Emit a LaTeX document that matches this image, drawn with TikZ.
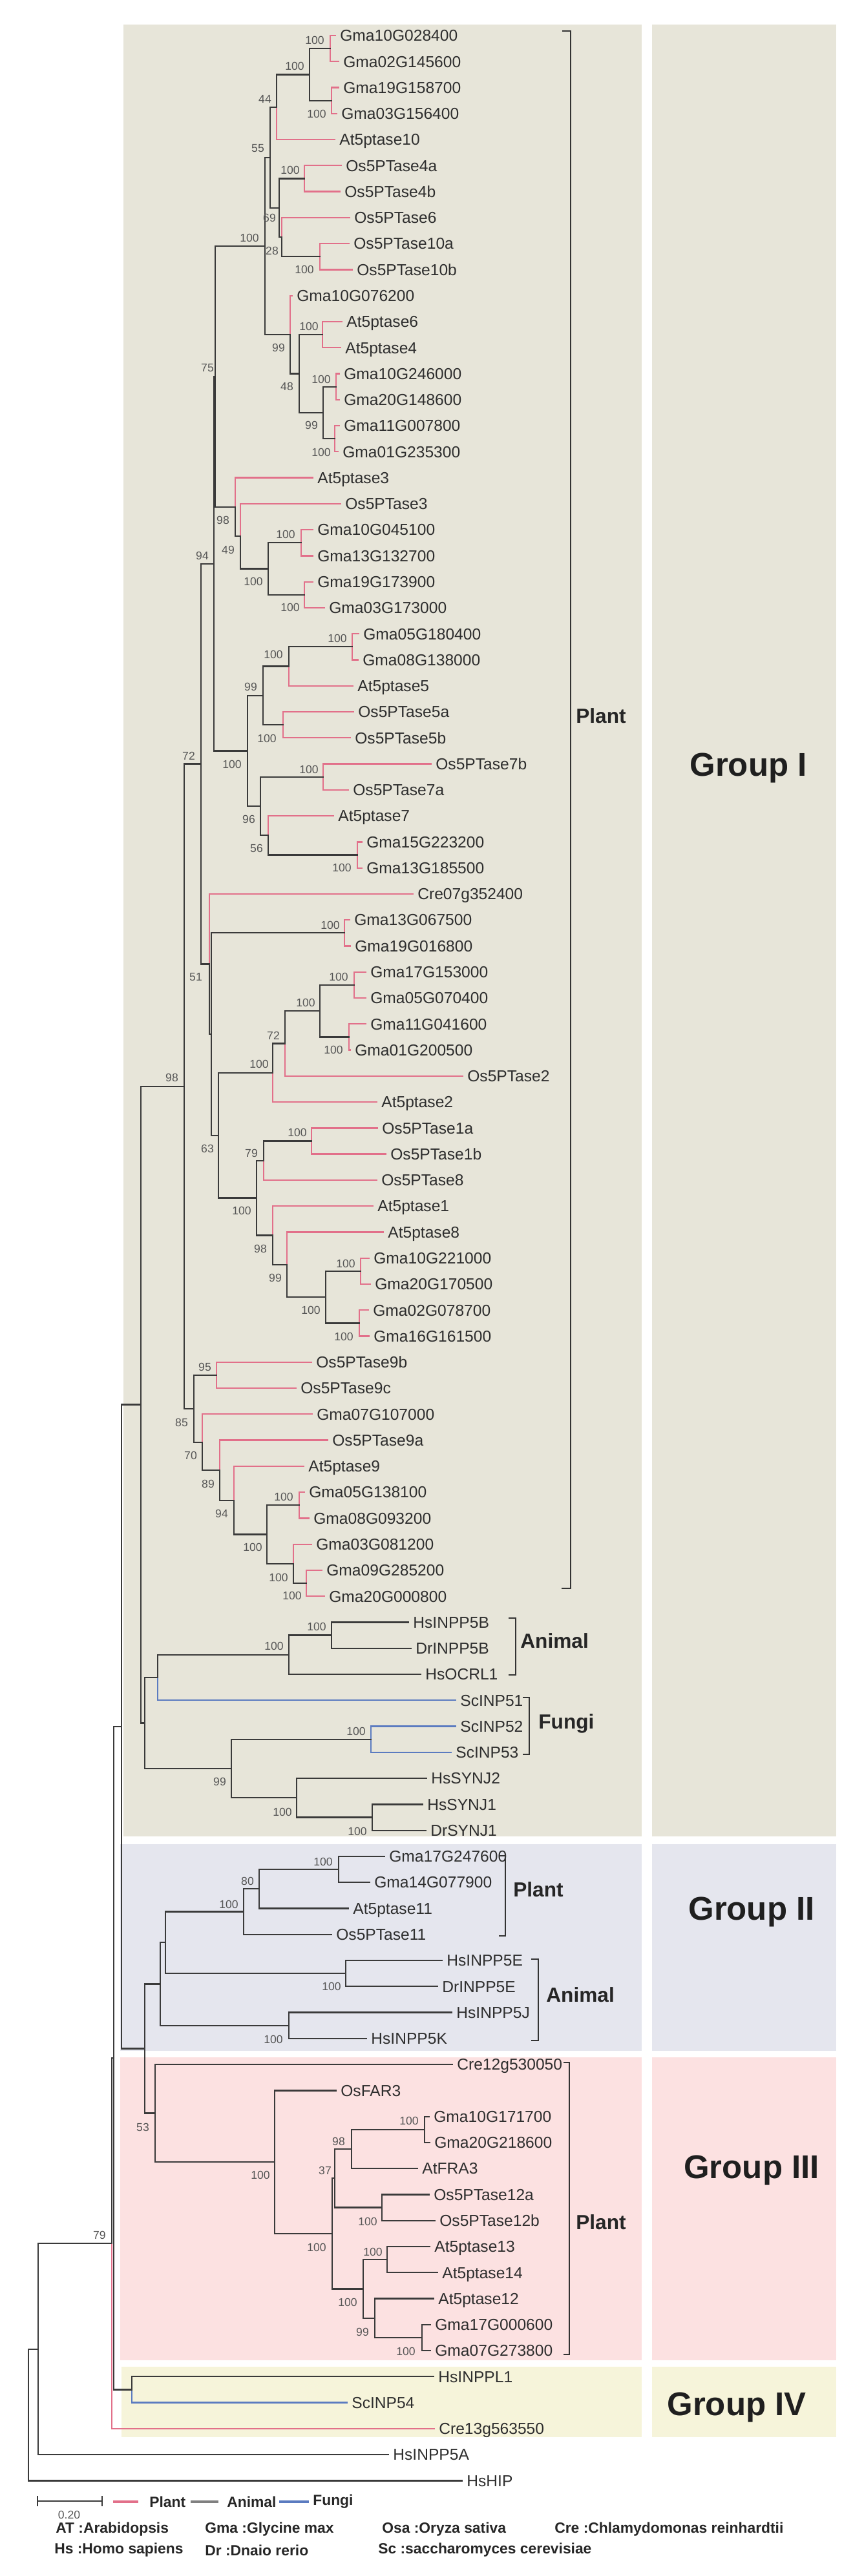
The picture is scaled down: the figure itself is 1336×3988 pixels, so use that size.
\documentclass[tikz,border=0pt]{standalone}
\usepackage{fontspec}
\setmainfont{Liberation Sans}
\definecolor{tree}{HTML}{3A3A3A}
\definecolor{plant}{HTML}{E2708A}
\definecolor{fungi}{HTML}{5B7BC0}
\definecolor{labc}{HTML}{2E2E2E}
\definecolor{bsc}{HTML}{555555}
\definecolor{bgI}{HTML}{E7E5D9}
\definecolor{bgII}{HTML}{E5E6EE}
\definecolor{bgIII}{HTML}{FCE1E1}
\definecolor{bgIV}{HTML}{F6F4DA}
\newcommand\LF[4]{\node[leaf] (#1) at (#2,55+40.27*#3) {#4};}
\newcommand\IN[3]{\coordinate (#1) at (#2,55+40.27*#3);}
\newcommand\E[3]{\draw[#1] (#2) |- (#3);}
\newcommand\EL[3]{\draw[#1] (#2) |- (#3.west);}
\newcommand\BS[4]{\node[bs] (bs#1) at (#2,#3) {#4};}
\begin{document}
\begin{tikzpicture}[x=0.02cm, y=-0.02cm,
  br/.style={draw=tree, line width=1.3pt, line cap=rect},
  pk/.style={draw=plant, line width=1.3pt, line cap=rect},
  fg/.style={draw=fungi, line width=1.3pt, line cap=rect},
  leaf/.style={anchor=west, inner xsep=0.14cm, inner ysep=0pt, text height=10pt, text depth=0pt, font=\fontsize{14}{15}\selectfont, text=labc},
  bs/.style={inner sep=0pt, font=\fontsize{10}{11}\selectfont, text=bsc},
  grp/.style={inner sep=0pt, font=\fontsize{29}{32}\selectfont\bfseries, text=black!88},
  clab/.style={anchor=west, inner sep=0pt, font=\fontsize{18}{20}\selectfont\bfseries, text=black!85},
  brk/.style={draw=black!80, line width=1.5pt},
  leg/.style={anchor=west, inner sep=0pt, font=\fontsize{13}{14}\selectfont\bfseries, text=black!85}
]
\useasboundingbox (0,0) rectangle (1336,3988);
% background bands
\fill[bgI] (191,38) rectangle (993,2843);
\fill[bgI] (1009,38) rectangle (1294,2843);
\fill[bgII] (186,2855) rectangle (993,3175);
\fill[bgII] (1009,2855) rectangle (1294,3175);
\fill[bgIII] (186,3185) rectangle (993,3654);
\fill[bgIII] (1009,3185) rectangle (1294,3654);
\fill[bgIV] (188,3664) rectangle (993,3773);
\fill[bgIV] (1009,3664) rectangle (1294,3773);
\node[grp] (gI) at (1158,1189) {Group I};
\node[grp] (gII) at (1163,2960) {Group II};
\node[grp] (gIII) at (1163,3360) {Group III};
\node[grp] (gIV) at (1140,3727) {Group IV};
% leaves
\LF{l0}{519}{0}{Gma10G028400}
\LF{l1}{524}{1}{Gma02G145600}
\LF{l2}{524}{2}{Gma19G158700}
\LF{l3}{521}{3}{Gma03G156400}
\LF{l4}{518}{4}{At5ptase10}
\LF{l5}{528}{5}{Os5PTase4a}
\LF{l6}{526}{6}{Os5PTase4b}
\LF{l7}{541}{7}{Os5PTase6}
\LF{l8}{540}{8}{Os5PTase10a}
\LF{l9}{545}{9}{Os5PTase10b}
\LF{l10}{452}{10}{Gma10G076200}
\LF{l11}{529}{11}{At5ptase6}
\LF{l12}{527}{12}{At5ptase4}
\LF{l13}{525}{13}{Gma10G246000}
\LF{l14}{525}{14}{Gma20G148600}
\LF{l15}{525}{15}{Gma11G007800}
\LF{l16}{523}{16}{Gma01G235300}
\LF{l17}{484}{17}{At5ptase3}
\LF{l18}{527}{18}{Os5PTase3}
\LF{l19}{484}{19}{Gma10G045100}
\LF{l20}{484}{20}{Gma13G132700}
\LF{l21}{484}{21}{Gma19G173900}
\LF{l22}{502}{22}{Gma03G173000}
\LF{l23}{555}{23}{Gma05G180400}
\LF{l24}{554}{24}{Gma08G138000}
\LF{l25}{546}{25}{At5ptase5}
\LF{l26}{547}{26}{Os5PTase5a}
\LF{l27}{542}{27}{Os5PTase5b}
\LF{l28}{667}{28}{Os5PTase7b}
\LF{l29}{539}{29}{Os5PTase7a}
\LF{l30}{516}{30}{At5ptase7}
\LF{l31}{560}{31}{Gma15G223200}
\LF{l32}{560}{32}{Gma13G185500}
\LF{l33}{639}{33}{Cre07g352400}
\LF{l34}{541}{34}{Gma13G067500}
\LF{l35}{542}{35}{Gma19G016800}
\LF{l36}{566}{36}{Gma17G153000}
\LF{l37}{566}{37}{Gma05G070400}
\LF{l38}{566}{38}{Gma11G041600}
\LF{l39}{542}{39}{Gma01G200500}
\LF{l40}{716}{40}{Os5PTase2}
\LF{l41}{583}{41}{At5ptase2}
\LF{l42}{584}{42}{Os5PTase1a}
\LF{l43}{597}{43}{Os5PTase1b}
\LF{l44}{583}{44}{Os5PTase8}
\LF{l45}{577}{45}{At5ptase1}
\LF{l46}{593}{46}{At5ptase8}
\LF{l47}{571}{47}{Gma10G221000}
\LF{l48}{573}{48}{Gma20G170500}
\LF{l49}{570}{49}{Gma02G078700}
\LF{l50}{571}{50}{Gma16G161500}
\LF{l51}{482}{51}{Os5PTase9b}
\LF{l52}{458}{52}{Os5PTase9c}
\LF{l53}{483}{53}{Gma07G107000}
\LF{l54}{507}{54}{Os5PTase9a}
\LF{l55}{470}{55}{At5ptase9}
\LF{l56}{471}{56}{Gma05G138100}
\LF{l57}{478}{57}{Gma08G093200}
\LF{l58}{482}{58}{Gma03G081200}
\LF{l59}{498}{59}{Gma09G285200}
\LF{l60}{502}{60}{Gma20G000800}
\LF{l61}{632}{61}{HsINPP5B}
\LF{l62}{636}{62}{DrINPP5B}
\LF{l63}{651}{63}{HsOCRL1}
\LF{l64}{705}{64}{ScINP51}
\LF{l65}{705}{65}{ScINP52}
\LF{l66}{698}{66}{ScINP53}
\LF{l67}{660}{67}{HsSYNJ2}
\LF{l68}{654}{68}{HsSYNJ1}
\LF{l69}{659}{69}{DrSYNJ1}
\LF{l70}{595}{70}{Gma17G247600}
\LF{l71}{572}{71}{Gma14G077900}
\LF{l72}{539}{72}{At5ptase11}
\LF{l73}{513}{73}{Os5PTase11}
\LF{l74}{684}{74}{HsINPP5E}
\LF{l75}{677}{75}{DrINPP5E}
\LF{l76}{699}{76}{HsINPP5J}
\LF{l77}{567}{77}{HsINPP5K}
\LF{l78}{700}{78}{Cre12g530050}
\LF{l79}{520}{79}{OsFAR3}
\LF{l80}{664}{80}{Gma10G171700}
\LF{l81}{665}{81}{Gma20G218600}
\LF{l82}{646}{82}{AtFRA3}
\LF{l83}{664}{83}{Os5PTase12a}
\LF{l84}{673}{84}{Os5PTase12b}
\LF{l85}{665}{85}{At5ptase13}
\LF{l86}{677}{86}{At5ptase14}
\LF{l87}{671}{87}{At5ptase12}
\LF{l88}{666}{88}{Gma17G000600}
\LF{l89}{666}{89}{Gma07G273800}
\LF{l90}{671}{90}{HsINPPL1}
\LF{l91}{537}{91}{ScINP54}
\LF{l92}{672}{92}{Cre13g563550}
\LF{l93}{601}{93}{HsINPP5A}
\LF{l94}{715}{94}{HsHIP}
% internal nodes
\IN{a1}{511}{0.5}
\IN{a2}{513}{2.5}
\IN{a3}{479}{1.5}
\IN{a4}{428}{2.75}
\IN{b1}{471}{5.5}
\IN{b3}{495}{8.5}
\IN{b2}{436}{7.75}
\IN{b4}{432}{6.625}
\IN{n55}{418}{4.6875}
\IN{c1}{499}{11.5}
\IN{c2}{520}{13.5}
\IN{c3}{518}{15.5}
\IN{c4}{500}{14.5}
\IN{c5}{463}{13}
\IN{c6}{449}{11.5}
\IN{n100a}{410}{8.09375}
\IN{d1}{466}{19.5}
\IN{d2}{471}{21.5}
\IN{d3}{415}{20.5}
\IN{d4}{372}{19.25}
\IN{d5}{364}{18.125}
\IN{n75}{333}{13.109}
\IN{e1}{545}{23.5}
\IN{e2}{447}{24.25}
\IN{e3}{438}{26.5}
\IN{e4}{407}{25.375}
\IN{f1}{500}{28.5}
\IN{f2}{553}{31.5}
\IN{f3}{415}{30.75}
\IN{f4}{403}{29.625}
\IN{n100b}{383}{27.5}
\IN{n94}{331}{20.305}
\IN{g1}{533}{34.5}
\IN{g2}{548}{36.5}
\IN{g3}{540}{38.5}
\IN{g4}{495}{37.5}
\IN{g5}{441}{38.75}
\IN{g6}{422}{39.875}
\IN{h1}{482}{42.5}
\IN{h2}{408}{43.25}
\IN{h3}{558}{47.5}
\IN{h4}{556}{49.5}
\IN{h5}{504}{48.5}
\IN{h6}{444}{47.25}
\IN{h7}{422}{46.125}
\IN{h8}{397}{44.6875}
\IN{n63}{338}{42.281}
\IN{nb}{327}{38.391}
\IN{n51}{324}{35.695}
\IN{n72}{311}{28.0}
\IN{i1}{335}{51.5}
\IN{j1}{463}{56.5}
\IN{j2}{474}{59.5}
\IN{j3}{454}{58.75}
\IN{j4}{413}{57.625}
\IN{j5}{362}{56.3125}
\IN{j6}{340}{55.156}
\IN{j7}{313}{54.078}
\IN{n85}{300}{52.789}
\IN{n98b}{285}{40.395}
\IN{k1}{513}{61.5}
\IN{k2}{447}{62.25}
\IN{k3}{244}{63.125}
\IN{k4}{574}{65.5}
\IN{k5}{576}{68.5}
\IN{k6}{459}{67.75}
\IN{k7}{358}{66.625}
\IN{k8}{224}{64.875}
\IN{n98t}{218}{52.635}
\IN{m1}{524}{70.5}
\IN{m2}{401}{71.25}
\IN{m3}{377}{72.125}
\IN{m4}{535}{74.5}
\IN{m5}{447}{76.5}
\IN{m6}{256}{73.3125}
\IN{m7}{248}{74.906}
\IN{p1}{657}{80.5}
\IN{p2}{544}{81.25}
\IN{p3}{591}{83.5}
\IN{p4}{518}{82.375}
\IN{p5}{599}{85.5}
\IN{p6}{653}{88.5}
\IN{p7}{580}{87.75}
\IN{p8}{562}{86.625}
\IN{p9}{514}{84.5}
\IN{p10}{425}{81.75}
\IN{p11}{240}{79.875}
\IN{n53}{224}{77.39}
\IN{n188}{188}{65.01}
\IN{q1}{204}{90.5}
\IN{nX}{176}{77.755}
\IN{n79}{173}{84.877}
\IN{n2}{59}{88.94}
\IN{root}{44}{91.47}
% edges
\EL{pk}{a1}{l0} \EL{pk}{a1}{l1}
\EL{pk}{a2}{l2} \EL{pk}{a2}{l3}
\E{br}{a3}{a1} \E{br}{a3}{a2}
\E{br}{a4}{a3} \EL{pk}{a4}{l4}
\EL{pk}{b1}{l5} \EL{pk}{b1}{l6}
\EL{pk}{b3}{l8} \EL{pk}{b3}{l9}
\EL{pk}{b2}{l7} \E{br}{b2}{b3}
\E{br}{b4}{b1} \E{br}{b4}{b2}
\E{br}{n55}{a4} \E{br}{n55}{b4}
\EL{pk}{c1}{l11} \EL{pk}{c1}{l12}
\EL{pk}{c2}{l13} \EL{pk}{c2}{l14}
\EL{pk}{c3}{l15} \EL{pk}{c3}{l16}
\E{br}{c4}{c2} \E{br}{c4}{c3}
\E{br}{c5}{c1} \E{br}{c5}{c4}
\EL{pk}{c6}{l10} \E{br}{c6}{c5}
\E{br}{n100a}{n55} \E{br}{n100a}{c6}
\EL{pk}{d1}{l19} \EL{pk}{d1}{l20}
\EL{pk}{d2}{l21} \EL{pk}{d2}{l22}
\E{br}{d3}{d1} \E{br}{d3}{d2}
\EL{pk}{d4}{l18} \E{br}{d4}{d3}
\EL{pk}{d5}{l17} \E{br}{d5}{d4}
\E{br}{n75}{n100a} \E{br}{n75}{d5}
\EL{pk}{e1}{l23} \EL{pk}{e1}{l24}
\E{br}{e2}{e1} \EL{pk}{e2}{l25}
\EL{pk}{e3}{l26} \EL{pk}{e3}{l27}
\E{br}{e4}{e2} \E{br}{e4}{e3}
\EL{pk}{f1}{l28} \EL{pk}{f1}{l29}
\EL{pk}{f2}{l31} \EL{pk}{f2}{l32}
\EL{pk}{f3}{l30} \E{br}{f3}{f2}
\E{br}{f4}{f1} \E{br}{f4}{f3}
\E{br}{n100b}{e4} \E{br}{n100b}{f4}
\E{br}{n94}{n75} \E{br}{n94}{n100b}
\EL{pk}{g1}{l34} \EL{pk}{g1}{l35}
\EL{pk}{g2}{l36} \EL{pk}{g2}{l37}
\EL{pk}{g3}{l38} \EL{pk}{g3}{l39}
\E{br}{g4}{g2} \E{br}{g4}{g3}
\E{br}{g5}{g4} \EL{pk}{g5}{l40}
\E{br}{g6}{g5} \EL{pk}{g6}{l41}
\EL{pk}{h1}{l42} \EL{pk}{h1}{l43}
\E{br}{h2}{h1} \EL{pk}{h2}{l44}
\EL{pk}{h3}{l47} \EL{pk}{h3}{l48}
\EL{pk}{h4}{l49} \EL{pk}{h4}{l50}
\E{br}{h5}{h3} \E{br}{h5}{h4}
\EL{pk}{h6}{l46} \E{br}{h6}{h5}
\EL{pk}{h7}{l45} \E{br}{h7}{h6}
\E{br}{h8}{h2} \E{br}{h8}{h7}
\E{br}{n63}{g6} \E{br}{n63}{h8}
\E{br}{nb}{g1} \E{br}{nb}{n63}
\EL{pk}{n51}{l33} \E{br}{n51}{nb}
\E{br}{n72}{n94} \E{br}{n72}{n51}
\EL{pk}{i1}{l51} \EL{pk}{i1}{l52}
\EL{pk}{j1}{l56} \EL{pk}{j1}{l57}
\EL{pk}{j2}{l59} \EL{pk}{j2}{l60}
\EL{pk}{j3}{l58} \E{br}{j3}{j2}
\E{br}{j4}{j1} \E{br}{j4}{j3}
\EL{pk}{j5}{l55} \E{br}{j5}{j4}
\EL{pk}{j6}{l54} \E{br}{j6}{j5}
\EL{pk}{j7}{l53} \E{br}{j7}{j6}
\E{br}{n85}{i1} \E{br}{n85}{j7}
\E{br}{n98b}{n72} \E{br}{n98b}{n85}
\EL{br}{k1}{l61} \EL{br}{k1}{l62}
\E{br}{k2}{k1} \EL{br}{k2}{l63}
\E{br}{k3}{k2} \EL{fg}{k3}{l64}
\EL{fg}{k4}{l65} \EL{fg}{k4}{l66}
\EL{br}{k5}{l68} \EL{br}{k5}{l69}
\EL{br}{k6}{l67} \E{br}{k6}{k5}
\E{br}{k7}{k4} \E{br}{k7}{k6}
\E{br}{k8}{k3} \E{br}{k8}{k7}
\E{br}{n98t}{n98b} \E{br}{n98t}{k8}
\EL{br}{m1}{l70} \EL{br}{m1}{l71}
\E{br}{m2}{m1} \EL{br}{m2}{l72}
\E{br}{m3}{m2} \EL{br}{m3}{l73}
\EL{br}{m4}{l74} \EL{br}{m4}{l75}
\EL{br}{m5}{l76} \EL{br}{m5}{l77}
\E{br}{m6}{m3} \E{br}{m6}{m4}
\E{br}{m7}{m6} \E{br}{m7}{m5}
\EL{br}{p1}{l80} \EL{br}{p1}{l81}
\E{br}{p2}{p1} \EL{br}{p2}{l82}
\EL{br}{p3}{l83} \EL{br}{p3}{l84}
\E{br}{p4}{p2} \E{br}{p4}{p3}
\EL{br}{p5}{l85} \EL{br}{p5}{l86}
\EL{br}{p6}{l88} \EL{br}{p6}{l89}
\EL{br}{p7}{l87} \E{br}{p7}{p6}
\E{br}{p8}{p5} \E{br}{p8}{p7}
\E{br}{p9}{p4} \E{br}{p9}{p8}
\EL{br}{p10}{l79} \E{br}{p10}{p9}
\EL{br}{p11}{l78} \E{br}{p11}{p10}
\E{br}{n53}{m7} \E{br}{n53}{p11}
\E{br}{n188}{n98t} \E{br}{n188}{n53}
\EL{br}{q1}{l90} \EL{fg}{q1}{l91}
\E{br}{nX}{n188} \E{br}{nX}{q1}
\E{br}{n79}{nX} \EL{pk}{n79}{l92}
\E{br}{n2}{n79} \EL{br}{n2}{l93}
\E{br}{root}{n2} \EL{br}{root}{l94}
% bootstrap values
\BS{1}{487}{62}{100}
\BS{2}{456}{102}{100}
\BS{3}{490}{176}{100}
\BS{4}{410}{153}{44}
\BS{5}{399}{230}{55}
\BS{6}{449}{263}{100}
\BS{7}{417}{337}{69}
\BS{8}{386}{368}{100}
\BS{9}{421}{388}{28}
\BS{10}{471}{417}{100}
\BS{11}{478}{505}{100}
\BS{12}{431}{538}{99}
\BS{13}{321}{570}{75}
\BS{14}{497}{587}{100}
\BS{15}{444}{598}{48}
\BS{16}{482}{658}{99}
\BS{17}{497}{700}{100}
\BS{18}{345}{805}{98}
\BS{19}{442}{827}{100}
\BS{20}{353}{851}{49}
\BS{21}{313}{860}{94}
\BS{22}{392}{900}{100}
\BS{23}{449}{940}{100}
\BS{24}{522}{988}{100}
\BS{25}{423}{1013}{100}
\BS{26}{388}{1063}{99}
\BS{27}{413}{1143}{100}
\BS{28}{292}{1170}{72}
\BS{29}{359}{1183}{100}
\BS{30}{478}{1191}{100}
\BS{31}{385}{1268}{96}
\BS{32}{397}{1313}{56}
\BS{33}{529}{1343}{100}
\BS{34}{511}{1432}{100}
\BS{35}{303}{1513}{51}
\BS{36}{524}{1512}{100}
\BS{37}{473}{1552}{100}
\BS{38}{423}{1603}{72}
\BS{39}{516}{1625}{100}
\BS{40}{401}{1647}{100}
\BS{41}{266}{1668}{98}
\BS{42}{460}{1753}{100}
\BS{43}{321}{1778}{63}
\BS{44}{389}{1785}{79}
\BS{45}{374}{1874}{100}
\BS{46}{403}{1933}{98}
\BS{47}{535}{1956}{100}
\BS{48}{426}{1978}{99}
\BS{49}{481}{2028}{100}
\BS{50}{532}{2069}{100}
\BS{51}{317}{2116}{95}
\BS{52}{281}{2202}{85}
\BS{53}{295}{2253}{70}
\BS{54}{322}{2297}{89}
\BS{55}{439}{2317}{100}
\BS{56}{343}{2343}{94}
\BS{57}{391}{2395}{100}
\BS{58}{431}{2442}{100}
\BS{59}{452}{2470}{100}
\BS{60}{490}{2518}{100}
\BS{61}{424}{2548}{100}
\BS{62}{551}{2680}{100}
\BS{63}{340}{2758}{99}
\BS{64}{437}{2805}{100}
\BS{65}{553}{2835}{100}
\BS{66}{500}{2882}{100}
\BS{67}{383}{2912}{80}
\BS{68}{354}{2948}{100}
\BS{69}{513}{3075}{100}
\BS{70}{423}{3157}{100}
\BS{71}{633}{3283}{100}
\BS{72}{221}{3293}{53}
\BS{73}{524}{3315}{98}
\BS{74}{503}{3360}{37}
\BS{75}{403}{3367}{100}
\BS{76}{569}{3439}{100}
\BS{77}{154}{3460}{79}
\BS{78}{490}{3479}{100}
\BS{79}{577}{3486}{100}
\BS{80}{538}{3564}{100}
\BS{81}{561}{3610}{99}
\BS{82}{628}{3640}{100}
% clade brackets
\draw[brk] (870,48) -- (883,48) -- (883,2459) -- (869,2459);
\node[clab] (cP1) at (891,1108) {Plant};
\draw[brk] (787,2505) -- (798,2505) -- (798,2593) -- (787,2593);
\node[clab] (cA1) at (805,2540) {Animal};
\draw[brk] (809,2628) -- (819,2628) -- (819,2716) -- (809,2716);
\node[clab] (cF1) at (833,2668) {Fungi};
\draw[brk] (772,2873) -- (782,2873) -- (782,2997) -- (772,2997);
\node[clab] (cP2) at (794,2925) {Plant};
\draw[brk] (822,3033) -- (833,3033) -- (833,3159) -- (822,3159);
\node[clab] (cA2) at (845,3088) {Animal};
\draw[brk] (872,3193) -- (881,3193) -- (881,3645) -- (872,3645);
\node[clab] (cP3) at (891,3440) {Plant};
% legend
\draw[draw=tree, line width=1.3pt] (58,3872) -- (158,3872);
\draw[draw=tree, line width=1.3pt] (58,3864) -- (58,3880);
\draw[draw=tree, line width=1.3pt] (158,3864) -- (158,3880);
\node[bs] (sc) at (107,3893) {0.20};
\draw[draw=plant, line width=2.5pt] (175,3873) -- (214,3873);
\node[leg] (lgP) at (231,3873) {Plant};
\draw[draw=gray, line width=2.5pt] (295,3873) -- (338,3873);
\node[leg] (lgA) at (351,3873) {Animal};
\draw[draw=fungi, line width=2.5pt] (432,3873) -- (478,3873);
\node[leg] (lgF) at (484,3873) {Fungi};
\node[leg] (t1) at (86,3916) {AT :Arabidopsis};
\node[leg] (t2) at (317,3916) {Gma :Glycine max};
\node[leg] (t3) at (591,3916) {Osa :Oryza sativa};
\node[leg] (t4) at (858,3916) {Cre :Chlamydomonas reinhardtii};
\node[leg] (t5) at (84,3948) {Hs :Homo sapiens};
\node[leg] (t6) at (317,3948) {Dr :Dnaio rerio};
\node[leg] (t7) at (585,3948) {Sc :saccharomyces cerevisiae};
\end{tikzpicture}
\end{document}
